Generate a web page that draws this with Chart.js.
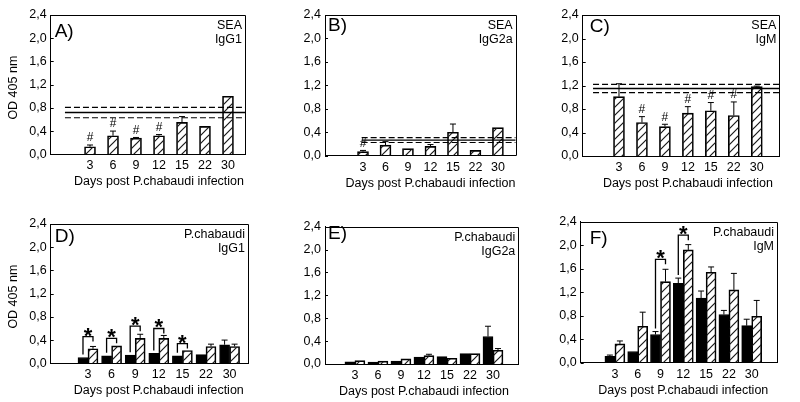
<!DOCTYPE html>
<html>
<head>
<meta charset="utf-8">
<script src="https://cdn.jsdelivr.net/npm/chart.js@4.4.1/dist/chart.umd.min.js"></script>
<style>
html, body { margin: 0; padding: 0; background: #fff; }
#fig { position: relative; width: 800px; height: 402px; overflow: hidden; }
.panel { position: absolute; }
</style>
</head>
<body>
<div id="fig"></div>
<script>
const days = ['3', '6', '9', '12', '15', '22', '30'];
const yLabelValues = [0, 0.4, 0.8, 1.2, 1.6, 2.0, 2.4];

// SEA antigen (hatched bars only)
const seaIgG1 = [0.13, 0.32, 0.28, 0.32, 0.55, 0.48, 1.00];
const seaIgG1Err = [0.03, 0.08, 0.01, 0.02, 0.10, 0, 0];
const seaIgG1Hash = [1, 1, 1, 1, 0, 0, 0];
const seaIgG1Ref = [0.72, 0.81, 0.63]; // mean, upper, lower

const seaIgG2a = [0.07, 0.18, 0.12, 0.16, 0.40, 0.09, 0.48];
const seaIgG2aErr = [0.02, 0.06, 0, 0.03, 0.14, 0, 0];
const seaIgG2aHash = [1, 0, 0, 0, 0, 0, 0];
const seaIgG2aRef = [0.265, 0.31, 0.225];

const seaIgM = [1.01, 0.57, 0.50, 0.73, 0.77, 0.69, 1.18];
const seaIgMErr = [0.22, 0.10, 0.04, 0.11, 0.14, 0.23, 0.01];
const seaIgMHash = [0, 1, 1, 1, 1, 1, 0];
const seaIgMRef = [1.15, 1.22, 1.08];

// P.chabaudi antigen: black and hatched bars
const pcIgG1Black = [0.10, 0.13, 0.14, 0.17, 0.13, 0.15, 0.32];
const pcIgG1BlackErr = [0, 0, 0, 0, 0, 0, 0.08];
const pcIgG1Hatch = [0.25, 0.30, 0.43, 0.43, 0.22, 0.29, 0.29];
const pcIgG1HatchErr = [0.04, 0, 0.07, 0.05, 0, 0.04, 0.04];
const pcIgG1Sig = [[0, 0.46], [1, 0.43], [2, 0.64], [3, 0.60], [4, 0.34]];

const pcIgG2aBlack = [0.04, 0.035, 0.05, 0.12, 0.13, 0.18, 0.48];
const pcIgG2aBlackErr = [0, 0, 0, 0, 0, 0, 0.18];
const pcIgG2aHatch = [0.06, 0.05, 0.09, 0.145, 0.10, 0.18, 0.24];
const pcIgG2aHatchErr = [0, 0, 0, 0.025, 0, 0, 0.03];

const pcIgMBlack = [0.11, 0.19, 0.48, 1.35, 1.10, 0.82, 0.63];
const pcIgMBlackErr = [0.02, 0, 0.05, 0.09, 0.12, 0.07, 0.11];
const pcIgMHatch = [0.32, 0.62, 1.38, 1.92, 1.54, 1.24, 0.79];
const pcIgMHatchErr = [0.05, 0.24, 0.21, 0.09, 0.09, 0.28, 0.27];
const pcIgMSig = [[2, 1.76], [3, 2.17]];

const FONT = "'Liberation Sans', Arial, Helvetica, sans-serif";

function makeHatch(ctx) {
    const tile = document.createElement('canvas');
    tile.width = 8;
    tile.height = 8;
    const t = tile.getContext('2d');
    t.strokeStyle = '#1a1a1a';
    t.lineWidth = 1.2;
    t.beginPath();
    t.moveTo(-1, 9); t.lineTo(9, -1);
    t.moveTo(-1, 1); t.lineTo(1, -1);
    t.moveTo(7, 9); t.lineTo(9, 7);
    t.stroke();
    return ctx.createPattern(tile, 'repeat');
}

function annotPlugin(cfg, errs) {
    return {
        id: 'annot',
        afterDatasetsDraw(chart) {
            const { ctx, chartArea: a, scales: { x, y } } = chart;
            ctx.save();
            ctx.strokeStyle = '#000';
            ctx.fillStyle = '#000';
            ctx.lineWidth = 1;

            // top and right frame
            const t = Math.round(a.top) + 0.5, r = Math.round(a.right) + 0.5;
            ctx.beginPath();
            ctx.moveTo(a.left, t); ctx.lineTo(r, t); ctx.lineTo(r, a.bottom);
            ctx.stroke();

            // small inner ticks on the y axis
            y.ticks.forEach(tk => {
                const py = Math.round(y.getPixelForValue(tk.value)) + 0.5;
                ctx.beginPath();
                ctx.moveTo(a.left, py); ctx.lineTo(a.left + 3, py);
                ctx.stroke();
            });

            // error bars
            const tops = [];
            errs.forEach((e, di) => {
                const meta = chart.getDatasetMeta(di);
                tops[di] = [];
                meta.data.forEach((el, i) => {
                    const v = chart.data.datasets[di].data[i].y;
                    const top = y.getPixelForValue(v + e[i]);
                    tops[di][i] = top;
                    if (e[i] > 0) {
                        ctx.beginPath();
                        ctx.moveTo(el.x, el.y); ctx.lineTo(el.x, top);
                        ctx.moveTo(el.x - 3, top); ctx.lineTo(el.x + 3, top);
                        ctx.stroke();
                    }
                });
            });

            // # marks
            if (cfg.hash) {
                ctx.font = '12px ' + FONT;
                ctx.textAlign = 'center';
                ctx.textBaseline = 'middle';
                const meta = chart.getDatasetMeta(0);
                cfg.hash.forEach((h, i) => {
                    if (h) ctx.fillText('#', meta.data[i].x, tops[0][i] - 7);
                });
            }

            // significance brackets with stars
            if (cfg.sig) {
                const m0 = chart.getDatasetMeta(0), m1 = chart.getDatasetMeta(1);
                ctx.lineWidth = 1.3;
                cfg.sig.forEach(([i, level]) => {
                    const xl = m0.data[i].x, xr = m1.data[i].x;
                    const ly = y.getPixelForValue(level);
                    ctx.beginPath();
                    ctx.moveTo(xl, tops[0][i] - 3);
                    ctx.lineTo(xl, ly);
                    ctx.lineTo(xr, ly);
                    ctx.lineTo(xr, ly + 5);
                    ctx.stroke();
                    ctx.font = 'bold 22px ' + FONT;
                    ctx.textAlign = 'center';
                    ctx.textBaseline = 'alphabetic';
                    ctx.fillText('*', (xl + xr) / 2, ly - 7 + 13);
                });
            }

            // panel letter
            ctx.font = '19px ' + FONT;
            ctx.textAlign = 'left';
            ctx.textBaseline = 'middle';
            ctx.fillText(cfg.letter, a.left + cfg.letterPos[0], a.top + cfg.letterPos[1]);

            // antigen / isotype labels
            ctx.font = '12.5px ' + FONT;
            ctx.textAlign = 'right';
            ctx.fillText(cfg.corner[0], a.right - 3, a.top + 11);
            ctx.fillText(cfg.corner[1], a.right - 3, a.top + 25);

            // x title centred on the day range
            ctx.textAlign = 'center';
            ctx.fillText('Days post P.chabaudi infection', x.getPixelForValue(4), a.bottom + 27.5);

            // y title
            if (cfg.yTitle) {
                ctx.translate(13.5, (a.top + a.bottom) / 2 + 3);
                ctx.rotate(-Math.PI / 2);
                ctx.fillText('OD 405 nm', 0, 0);
            }
            ctx.restore();
        }
    };
}

function makePanel(cfg) {
    const [rx, ry, rw, rh] = cfg.rect;
    const [al, at, ar, ab] = cfg.area;
    const wrap = document.createElement('div');
    wrap.className = 'panel';
    wrap.style.left = rx + 'px';
    wrap.style.top = ry + 'px';
    wrap.style.width = rw + 'px';
    wrap.style.height = rh + 'px';
    const canvas = document.createElement('canvas');
    canvas.width = rw;
    canvas.height = rh;
    wrap.appendChild(canvas);
    document.getElementById('fig').appendChild(wrap);
    const ctx = canvas.getContext('2d');
    const hatch = makeHatch(ctx);

    const datasets = [];
    const errs = [];
    cfg.series.forEach(s => {
        datasets.push({
            type: 'bar',
            data: s.values.map((v, i) => ({ x: i + 1, y: v })),
            backgroundColor: s.hatched ? hatch : '#000',
            borderColor: '#000',
            borderWidth: 1,
            barThickness: cfg.barW,
            order: 1
        });
        errs.push(s.errors);
    });
    if (cfg.ref) {
        cfg.ref.forEach((v, k) => {
            datasets.push({
                type: 'line',
                data: [{ x: cfg.refStart, y: v }, { x: cfg.xmax, y: v }],
                borderColor: '#000',
                borderWidth: k === 0 ? 1.4 : 1.2,
                borderDash: k === 0 ? [] : [6, 3],
                pointRadius: 0,
                order: 0
            });
        });
    }

    new Chart(ctx, {
        type: 'bar',
        data: { datasets },
        options: {
            responsive: false,
            animation: false,
            events: [],
            layout: { autoPadding: false, padding: { left: 0, top: at - ry, right: rx + rw - ar, bottom: 0 } },
            plugins: { legend: { display: false }, tooltip: { enabled: false } },
            scales: {
                x: {
                    type: 'linear',
                    offset: false,
                    min: cfg.xmin,
                    max: cfg.xmax,
                    grid: { display: false, drawTicks: false, offset: false },
                    border: { display: true, color: '#000', width: 1 },
                    afterBuildTicks: scale => { scale.ticks = days.map((d, i) => ({ value: i + 1 })); },
                    afterFit: scale => { scale.height = ry + rh - ab; },
                    ticks: {
                        autoSkip: false,
                        maxRotation: 0,
                        padding: 4,
                        color: '#000',
                        font: { family: FONT, size: 12.5 },
                        callback: v => days[Math.round(v) - 1] || ''
                    }
                },
                y: {
                    min: 0,
                    max: 2.4,
                    grid: { display: false, drawTicks: false },
                    border: { display: true, color: '#000', width: 1 },
                    afterFit: scale => { scale.width = al - rx; },
                    ticks: {
                        stepSize: 0.2,
                        padding: 4,
                        color: '#000',
                        font: { family: FONT, size: 12.5 },
                        callback: v => {
                            const k = Math.round(v * 10) / 10;
                            return yLabelValues.some(l => Math.abs(l - k) < 1e-6) ? k.toFixed(1).replace('.', ',') : '';
                        }
                    }
                }
            }
        },
        plugins: [annotPlugin(cfg, errs)]
    });
}

makePanel({
    rect: [0, 0, 265, 200], area: [50.7, 15, 245, 154.3], xmin: -0.71, xmax: 7.74,
    barW: 11, letter: 'A)', letterPos: [4, 17], corner: ['SEA', 'IgG1'], yTitle: true,
    series: [{ values: seaIgG1, errors: seaIgG1Err, hatched: true }],
    hash: seaIgG1Hash, ref: seaIgG1Ref, refStart: -0.09
});
makePanel({
    rect: [265, 0, 265, 200], area: [325, 15, 515.7, 155.7], xmin: -0.69, xmax: 7.79,
    barW: 11, letter: 'B)', letterPos: [3, 11], corner: ['SEA', 'IgG2a'],
    series: [{ values: seaIgG2a, errors: seaIgG2aErr, hatched: true }],
    hash: seaIgG2aHash, ref: seaIgG2aRef, refStart: 0.94
});
makePanel({
    rect: [530, 0, 270, 200], area: [582.7, 15, 779.3, 156], xmin: -0.58, xmax: 7.98,
    barW: 11, letter: 'C)', letterPos: [7, 12], corner: ['SEA', 'IgM'],
    series: [{ values: seaIgM, errors: seaIgMErr, hatched: true }],
    hash: seaIgMHash, ref: seaIgMRef, refStart: -0.13
});
makePanel({
    rect: [0, 200, 265, 202], area: [50.7, 224, 248, 363.3], xmin: -0.58, xmax: 7.78,
    barW: 10, letter: 'D)', letterPos: [4, 13], corner: ['P.chabaudi', 'IgG1'], yTitle: true,
    series: [
        { values: pcIgG1Black, errors: pcIgG1BlackErr, hatched: false },
        { values: pcIgG1Hatch, errors: pcIgG1HatchErr, hatched: true }
    ],
    sig: pcIgG1Sig
});
makePanel({
    rect: [265, 200, 265, 202], area: [325, 226.7, 518.3, 364], xmin: -0.30, xmax: 8.10,
    barW: 10, letter: 'E)', letterPos: [3, 7], corner: ['P.chabaudi', 'IgG2a'],
    series: [
        { values: pcIgG2aBlack, errors: pcIgG2aBlackErr, hatched: false },
        { values: pcIgG2aHatch, errors: pcIgG2aHatchErr, hatched: true }
    ]
});
makePanel({
    rect: [530, 200, 270, 202], area: [580.7, 221.7, 777, 362.7], xmin: -0.50, xmax: 8.11,
    barW: 10, letter: 'F)', letterPos: [9, 17], corner: ['P.chabaudi', 'IgM'],
    series: [
        { values: pcIgMBlack, errors: pcIgMBlackErr, hatched: false },
        { values: pcIgMHatch, errors: pcIgMHatchErr, hatched: true }
    ],
    sig: pcIgMSig
});
</script>
</body>
</html>
